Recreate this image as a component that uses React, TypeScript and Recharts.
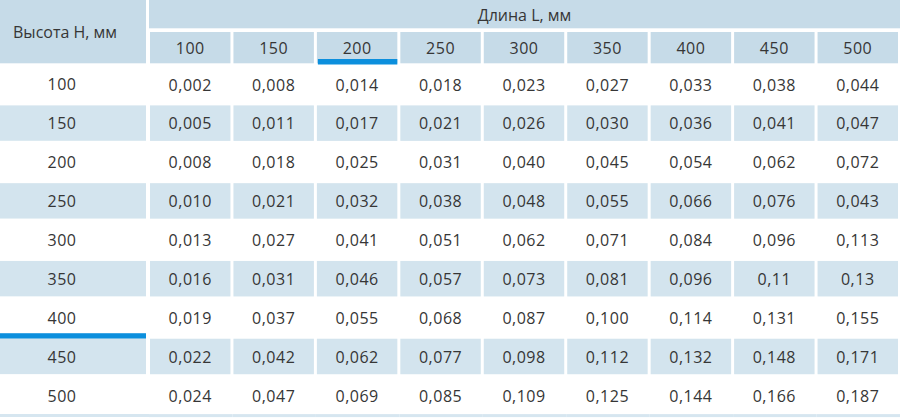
import { Bar, BarChart, XAxis, YAxis } from "recharts";

// Table: Высота H (rows) x Длина L (columns)
const heights = [100, 150, 200, 250, 300, 350, 400, 450, 500];
const lengths = [100, 150, 200, 250, 300, 350, 400, 450, 500];

const len100 = ["0,002", "0,005", "0,008", "0,010", "0,013", "0,016", "0,019", "0,022", "0,024"];
const len150 = ["0,008", "0,011", "0,018", "0,021", "0,027", "0,031", "0,037", "0,042", "0,047"];
const len200 = ["0,014", "0,017", "0,025", "0,032", "0,041", "0,046", "0,055", "0,062", "0,069"];
const len250 = ["0,018", "0,021", "0,031", "0,038", "0,051", "0,057", "0,068", "0,077", "0,085"];
const len300 = ["0,023", "0,026", "0,040", "0,048", "0,062", "0,073", "0,087", "0,098", "0,109"];
const len350 = ["0,027", "0,030", "0,045", "0,055", "0,071", "0,081", "0,100", "0,112", "0,125"];
const len400 = ["0,033", "0,036", "0,054", "0,066", "0,084", "0,096", "0,114", "0,132", "0,144"];
const len450 = ["0,038", "0,041", "0,062", "0,076", "0,096", "0,11", "0,131", "0,148", "0,166"];
const len500 = ["0,044", "0,047", "0,072", "0,043", "0,113", "0,13", "0,155", "0,171", "0,187"];

const columns = [len100, len150, len200, len250, len300, len350, len400, len450, len500];

const headerBlue = "#c6dbe8";
const rowBlue = "#d3e4ee";
const lineBlue = "#d6e6f0";
const accent = "#0c8fdd";
const ink = "#363636";
const font = "'Open Sans', 'Noto Sans', sans-serif";
const fontSize = 16;
const numSpacing = 0.5;

const markedLength = 200;
const markedHeight = 400;

const rows = heights.map((h, i) => {
  const entry: Record<string, string | number> = { h: String(h), row: i };
  lengths.forEach((l) => {
    entry[`L${l}`] = 1;
  });
  return entry;
});

function LengthTick(props: any) {
  const { x, y, payload, width } = props;
  const cellW = width / lengths.length;
  const length = lengths[Math.floor(payload.value)];
  const left = x - cellW / 2 + 1;
  return (
    <g>
      <rect x={left} y={y - 32} width={cellW - 3} height={31.3} fill={headerBlue} />
      {length === markedLength && (
        <rect x={left + 1} y={y - 5} width={cellW - 4} height={5.5} fill={accent} />
      )}
      <text
        x={x - 0.5}
        y={y - 16}
        textAnchor="middle"
        dominantBaseline="central"
        fill={ink}
        fontSize={fontSize}
        fontFamily={font}
        letterSpacing={numSpacing}
      >
        {length}
      </text>
    </g>
  );
}

function HeightTick(props: any) {
  const { x, y, payload, index, width, height } = props;
  const rowH = height / heights.length;
  const top = y - rowH / 2;
  const left = x - width;
  return (
    <g>
      {index % 2 === 1 && (
        <rect x={left} y={top + 2.5} width={width - 3} height={rowH - 3.5} fill={rowBlue} />
      )}
      {Number(payload.value) === markedHeight && (
        <rect x={left} y={top + rowH - 3} width={width - 3} height={5.5} fill={accent} />
      )}
      {index === heights.length - 1 && (
        <rect x={left} y={top + rowH} width={width} height={3} fill={lineBlue} />
      )}
      <text
        x={left + 62}
        y={y + 1}
        textAnchor="middle"
        dominantBaseline="central"
        fill={ink}
        fontSize={fontSize}
        fontFamily={font}
        letterSpacing={numSpacing}
      >
        {payload.value}
      </text>
    </g>
  );
}

function TitleLabel(props: any) {
  const { x, y, width } = props.viewBox;
  return (
    <g>
      <rect x={x} y={y} width={width} height={28.3} fill={headerBlue} />
      <text
        x={x + width / 2}
        y={y + 15}
        textAnchor="middle"
        dominantBaseline="central"
        fill={ink}
        fontSize={fontSize}
        fontFamily={font}
      >
        Длина L, мм
      </text>
    </g>
  );
}

function CornerLabel(props: any) {
  const { x, y, width } = props.viewBox;
  return (
    <g>
      <rect x={x} y={0} width={width - 3} height={y - 0.7} fill={headerBlue} />
      <text
        x={x + 13}
        y={y / 2}
        textAnchor="start"
        dominantBaseline="central"
        fill={ink}
        fontSize={fontSize}
        fontFamily={font}
      >
        Высота H, мм
      </text>
    </g>
  );
}

function makeCell(col: number) {
  return function Cell(props: any) {
    const { x, y, width, height, payload } = props;
    const row = Number(payload.row);
    return (
      <g>
        {row % 2 === 1 && (
          <rect x={x + 1} y={y + 2.5} width={width - 3} height={height - 3.5} fill={rowBlue} />
        )}
        {row === heights.length - 1 && (
          <rect x={x} y={y + height} width={width} height={3} fill={lineBlue} />
        )}
        <text
          x={x + width / 2 - 0.5}
          y={y + height / 2 + 1}
          textAnchor="middle"
          dominantBaseline="central"
          fill={ink}
          fontSize={fontSize}
          fontFamily={font}
          letterSpacing={numSpacing}
        >
          {columns[col][row]}
        </text>
      </g>
    );
  };
}

export default function App() {
  return (
    <div style={{ position: "absolute", left: 0, top: 0, background: "#fff" }}>
      <BarChart
        width={900}
        height={418}
        data={rows}
        layout="vertical"
        barCategoryGap={0}
        barGap={0}
        margin={{ top: 0, right: 0, bottom: 4, left: 0 }}
      >
        <XAxis
          type="number"
          orientation="top"
          domain={[0, lengths.length]}
          ticks={lengths.map((_, i) => i + 0.5)}
          interval={0}
          height={64}
          tickSize={0}
          tickMargin={0}
          axisLine={false}
          tickLine={false}
          tick={<LengthTick />}
          label={<TitleLabel />}
        />
        <YAxis
          type="category"
          dataKey="h"
          width={149}
          interval={0}
          tickSize={0}
          tickMargin={0}
          axisLine={false}
          tickLine={false}
          tick={<HeightTick />}
          label={<CornerLabel />}
        />
        {lengths.map((l, i) => (
          <Bar
            key={l}
            dataKey={`L${l}`}
            stackId="grid"
            shape={makeCell(i)}
            isAnimationActive={false}
          />
        ))}
      </BarChart>
    </div>
  );
}
